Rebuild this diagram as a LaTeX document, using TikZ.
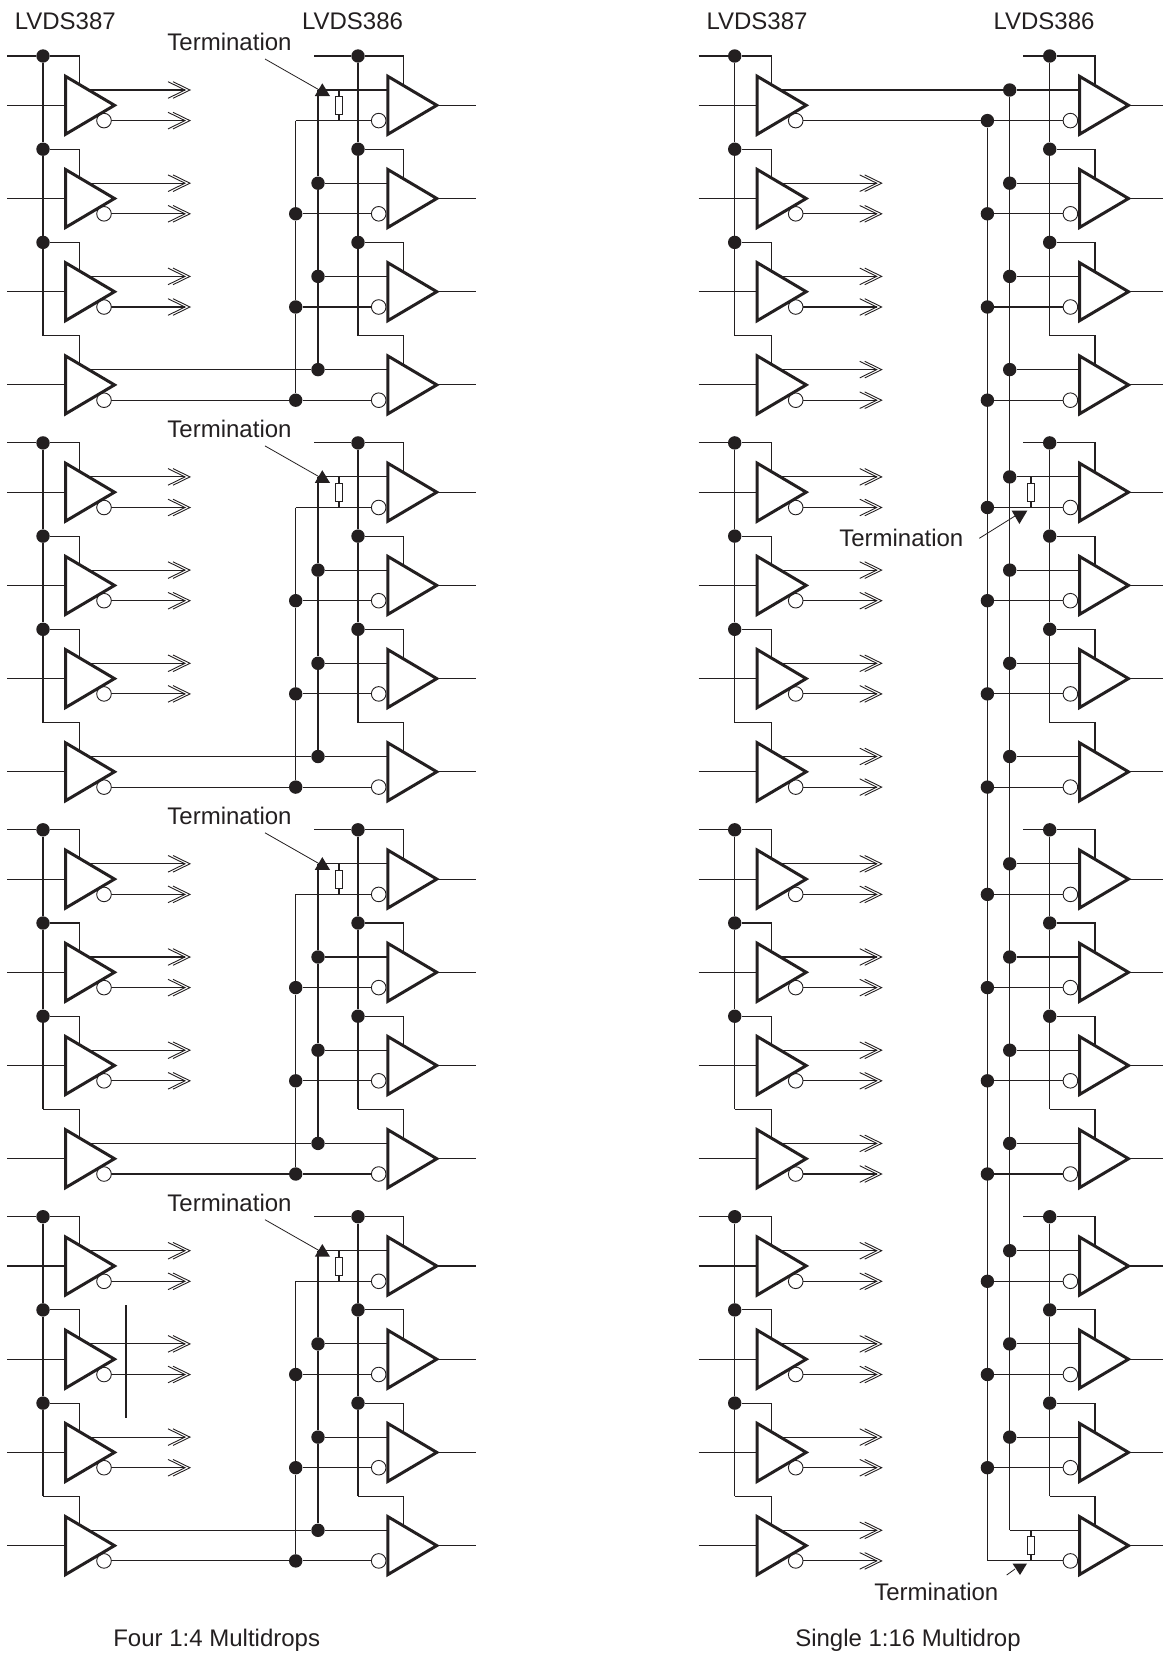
\documentclass[tikz,border=0pt]{standalone}
\usepackage{fontspec}
\setmainfont{Liberation Sans}
\definecolor{ink}{HTML}{231F20}
\tikzset{
  wire/.style={draw=ink,line width=1.05pt},
  jdot/.style={circle,fill=ink,draw=none,inner sep=0pt,minimum size=13.4pt},
  bubble/.style={circle,fill=white,draw=ink,line width=0.9pt,inner sep=0pt,minimum size=14.6pt},
  amp/.style={draw=ink,fill=white,line width=3pt,line join=miter,miter limit=10},
  chev/.style={draw=ink,line width=0.9pt,line join=miter},
  resist/.style={rectangle,draw=ink,fill=white,line width=0.9pt,inner sep=0pt,minimum width=7.6pt,minimum height=18pt},
  lab/.style={inner sep=0pt,anchor=base,text=ink,font=\fontsize{24}{28}\selectfont},
  leader/.style={draw=ink,line width=0.8pt},
  tarrow/.style={fill=ink,draw=none},
}
\newcommand\jn[4]{\ifnum#4=1 \node[jdot] (#1) at (#2,#3) {};\else \coordinate (#1) at (#2,#3);\fi}
\newcommand\chevron[1]{%
  \draw[chev] ([shift={(-17,-8.3)}]#1) -- (#1) -- ([shift={(-17,8.3)}]#1);
  \draw[chev] ([shift={(-22,-8.3)}]#1) -- ([shift={(-5,0)}]#1) -- ([shift={(-22,8.3)}]#1);}
\begin{document}
\begin{tikzpicture}[x=1pt,y=-1pt]
\useasboundingbox (0,0) rectangle (1163,1654);
% ---------- pins and junctions
\foreach \pn/\dx/\stub/\outx in {A/0/314/476,B/691.7/1023.3/1163}{
 \foreach \gr in {0,...,3}{
  \foreach \rw in {0,...,3}{
   \pgfmathsetmacro\yy{105.3+386.9*\gr+93.2*\rw}
   \pgfmathsetmacro\yp{\yy-15.3}
   \pgfmathsetmacro\yn{\yy+15.3}
   \pgfmathsetmacro\ye{\yy-49.3}
   \pgfmathsetmacro\xl{\dx}
   % driver pins
   \coordinate (Di\pn\gr\rw) at (7+\xl,\yy);
   \coordinate (Dl\pn\gr\rw) at (66+\xl,\yy);
   \coordinate (Dp\pn\gr\rw) at (86+\xl,\yp);
   \coordinate (Dn\pn\gr\rw) at (104+\xl,\yn);
   \coordinate (De\pn\gr\rw) at (79.7+\xl,\yy-18);
   \coordinate (Cp\pn\gr\rw) at (190+\xl,\yp);
   \coordinate (Cn\pn\gr\rw) at (190+\xl,\yn);
   \coordinate (Wp\pn\gr\rw) at (185+\xl,\yp);
   \coordinate (Wn\pn\gr\rw) at (185+\xl,\yn);
   % receiver pins
   \coordinate (Rp\pn\gr\rw) at (388+\xl,\yp);
   \coordinate (Rn\pn\gr\rw) at (378.7+\xl,\yn);
   \coordinate (Re\pn\gr\rw) at (403.3+\xl,\yy-18);
   \coordinate (Rt\pn\gr\rw) at (437+\xl,\yy);
   \coordinate (Ro\pn\gr\rw) at (\outx,\yy);
   % enable junctions
   \ifnum\rw<3 \def\hasdot{1}\else\def\hasdot{0}\fi
   \jn{Ja\pn\gr\rw}{43+\xl}{\ye}{\hasdot}
   \jn{Jb\pn\gr\rw}{358+\xl}{\ye}{\hasdot}
   \ifnum\rw=0
     \coordinate (Sa\pn\gr) at (7+\xl,\ye);
     \coordinate (Sb\pn\gr) at (\stub,\ye);
   \fi
   % bus junctions
   \def\hasdot{1}
   \if\pn A\ifnum\rw=0 \def\hasdot{0}\fi\else
     \ifnum\gr=3 \ifnum\rw=3 \def\hasdot{0}\fi\fi\fi
   \jn{Bp\pn\gr\rw}{318+\xl}{\yp}{\hasdot}
   \jn{Bn\pn\gr\rw}{295.7+\xl}{\yn}{\hasdot}
  }
 }
}
% ---------- wires common to both panels
\foreach \pn in {A,B}{
 \foreach \gr in {0,...,3}{
  \draw[wire] (Sa\pn\gr) -- (Ja\pn\gr0);
  \draw[wire] (Sb\pn\gr) -- (Jb\pn\gr0);
  \foreach \rw/\nx in {0/1,1/2,2/3}{
   \draw[wire] (Ja\pn\gr\rw) -- (Ja\pn\gr\nx);
   \draw[wire] (Jb\pn\gr\rw) -- (Jb\pn\gr\nx);
  }
  \foreach \rw in {0,...,3}{
   \draw[wire] (Ja\pn\gr\rw) -| (De\pn\gr\rw);
   \draw[wire] (Jb\pn\gr\rw) -| (Re\pn\gr\rw);
   \draw[wire] (Di\pn\gr\rw) -- (Dl\pn\gr\rw);
   \draw[wire] (Rt\pn\gr\rw) -- (Ro\pn\gr\rw);
   \draw[wire] (Bp\pn\gr\rw) -- (Rp\pn\gr\rw);
   \draw[wire] (Bn\pn\gr\rw) -- (Rn\pn\gr\rw);
  }
 }
}
% ---------- panel A: four 1:4 multidrops
\foreach \gr in {0,...,3}{
 \foreach \rw in {0,1,2}{
  \draw[wire] (DpA\gr\rw) -- (WpA\gr\rw);
  \draw[wire] (DnA\gr\rw) -- (WnA\gr\rw);
  \chevron{CpA\gr\rw}
  \chevron{CnA\gr\rw}
 }
 \draw[wire] (DpA\gr3) -- (BpA\gr3);
 \draw[wire] (DnA\gr3) -- (BnA\gr3);
 \foreach \rw/\nx in {0/1,1/2,2/3}{
  \draw[wire] (BpA\gr\rw) -- (BpA\gr\nx);
  \draw[wire] (BnA\gr\rw) -- (BnA\gr\nx);
 }
}
% ---------- panel B: single 1:16 multidrop
\draw[wire] (DpB00) -- (BpB00);
\draw[wire] (DnB00) -- (BnB00);
\foreach \gr in {0,...,3}{
 \foreach \rw in {0,...,3}{
  \pgfmathtruncatemacro\idx{10*\gr+\rw}
  \ifnum\idx>0
   \draw[wire] (DpB\gr\rw) -- (WpB\gr\rw);
   \draw[wire] (DnB\gr\rw) -- (WnB\gr\rw);
   \chevron{CpB\gr\rw}
   \chevron{CnB\gr\rw}
  \fi
 }
}
\draw[wire] (BpB00) -- (BpB33);
\draw[wire] (BnB00) -- (BnB33);
% ---------- bubbles and amplifier triangles
\foreach \pn/\xd/\xr in {A/65.5/387.8,B/757.2/1079.5}{
 \foreach \gr in {0,...,3}{
  \foreach \rw in {0,...,3}{
   \pgfmathsetmacro\yy{105.3+386.9*\gr+93.2*\rw}
   \node[bubble] (Ub\pn\gr\rw) at (Dn\pn\gr\rw) {};
   \node[bubble] (Vb\pn\gr\rw) at (Rn\pn\gr\rw) {};
   \draw[amp] (\xd,\yy-29) -- (\xd+49,\yy) -- (\xd,\yy+29) -- cycle;
   \draw[amp] (\xr,\yy-29) -- (\xr+49,\yy) -- (\xr,\yy+29) -- cycle;
  }
 }
}
% ---------- terminations, panel A
\foreach \gr in {0,...,3}{
 \pgfmathsetmacro\yy{105.3+386.9*\gr}
 \coordinate (Tu\gr) at (339,\yy-15.3);
 \coordinate (Td\gr) at (339,\yy+15.3);
 \node[resist] (Tr\gr) at (339,\yy) {};
 \draw[wire] (Tu\gr) -- (Tr\gr);
 \draw[wire] (Td\gr) -- (Tr\gr);
 \node[lab] (Tl\gr) at (229.5,\yy-54.6) {Termination};
 \coordinate (Tf\gr) at (265,\yy-46.3);
 \coordinate (Tg\gr) at (319,\yy-15.5);
 \draw[leader] (Tf\gr) -- (Tg\gr);
 \fill[tarrow] (322.3,\yy-22) -- (330,\yy-9.3) -- (314.8,\yy-9.3) -- cycle;
}
% ---------- terminations, panel B
\node[resist] (Tm) at (1031,492.5) {};
\draw[wire] (BpB10 -| Tm) -- (Tm);
\draw[wire] (BnB10 -| Tm) -- (Tm);
\node[lab] (Tml) at (901.3,546.7) {Termination};
\coordinate (Tmf) at (979.3,538.3);
\coordinate (Tmg) at (1015,516);
\draw[leader] (Tmf) -- (Tmg);
\fill[tarrow] (1011.7,510.7) -- (1027.3,510.7) -- (1019.4,524) -- cycle;
\node[resist] (Te) at (1031,1545.3) {};
\draw[wire] (BpB33 -| Te) -- (Te);
\draw[wire] (BnB33 -| Te) -- (Te);
\node[lab] (Tel) at (936.3,1600) {Termination};
\coordinate (Tef) at (1006.7,1575);
\coordinate (Teg) at (1015,1569);
\draw[leader] (Tef) -- (Teg);
\fill[tarrow] (1012.5,1563.5) -- (1027,1563.5) -- (1020,1575) -- cycle;
% ---------- headings, captions, stray mark
\node[lab] (h1) at (65.3,30) {LVDS387};
\node[lab] (h2) at (352.5,30) {LVDS386};
\node[lab] (h3) at (757,30) {LVDS387};
\node[lab] (h4) at (1044,30) {LVDS386};
\node[lab] (c1) at (216.7,1646.7) {Four 1:4 Multidrops};
\node[lab] (c2) at (908,1646.7) {Single 1:16 Multidrop};
\coordinate (Ma) at (126,1305);
\coordinate (Mb) at (126,1417.5);
\draw[wire] (Ma) -- (Mb);
\end{tikzpicture}
\end{document}
